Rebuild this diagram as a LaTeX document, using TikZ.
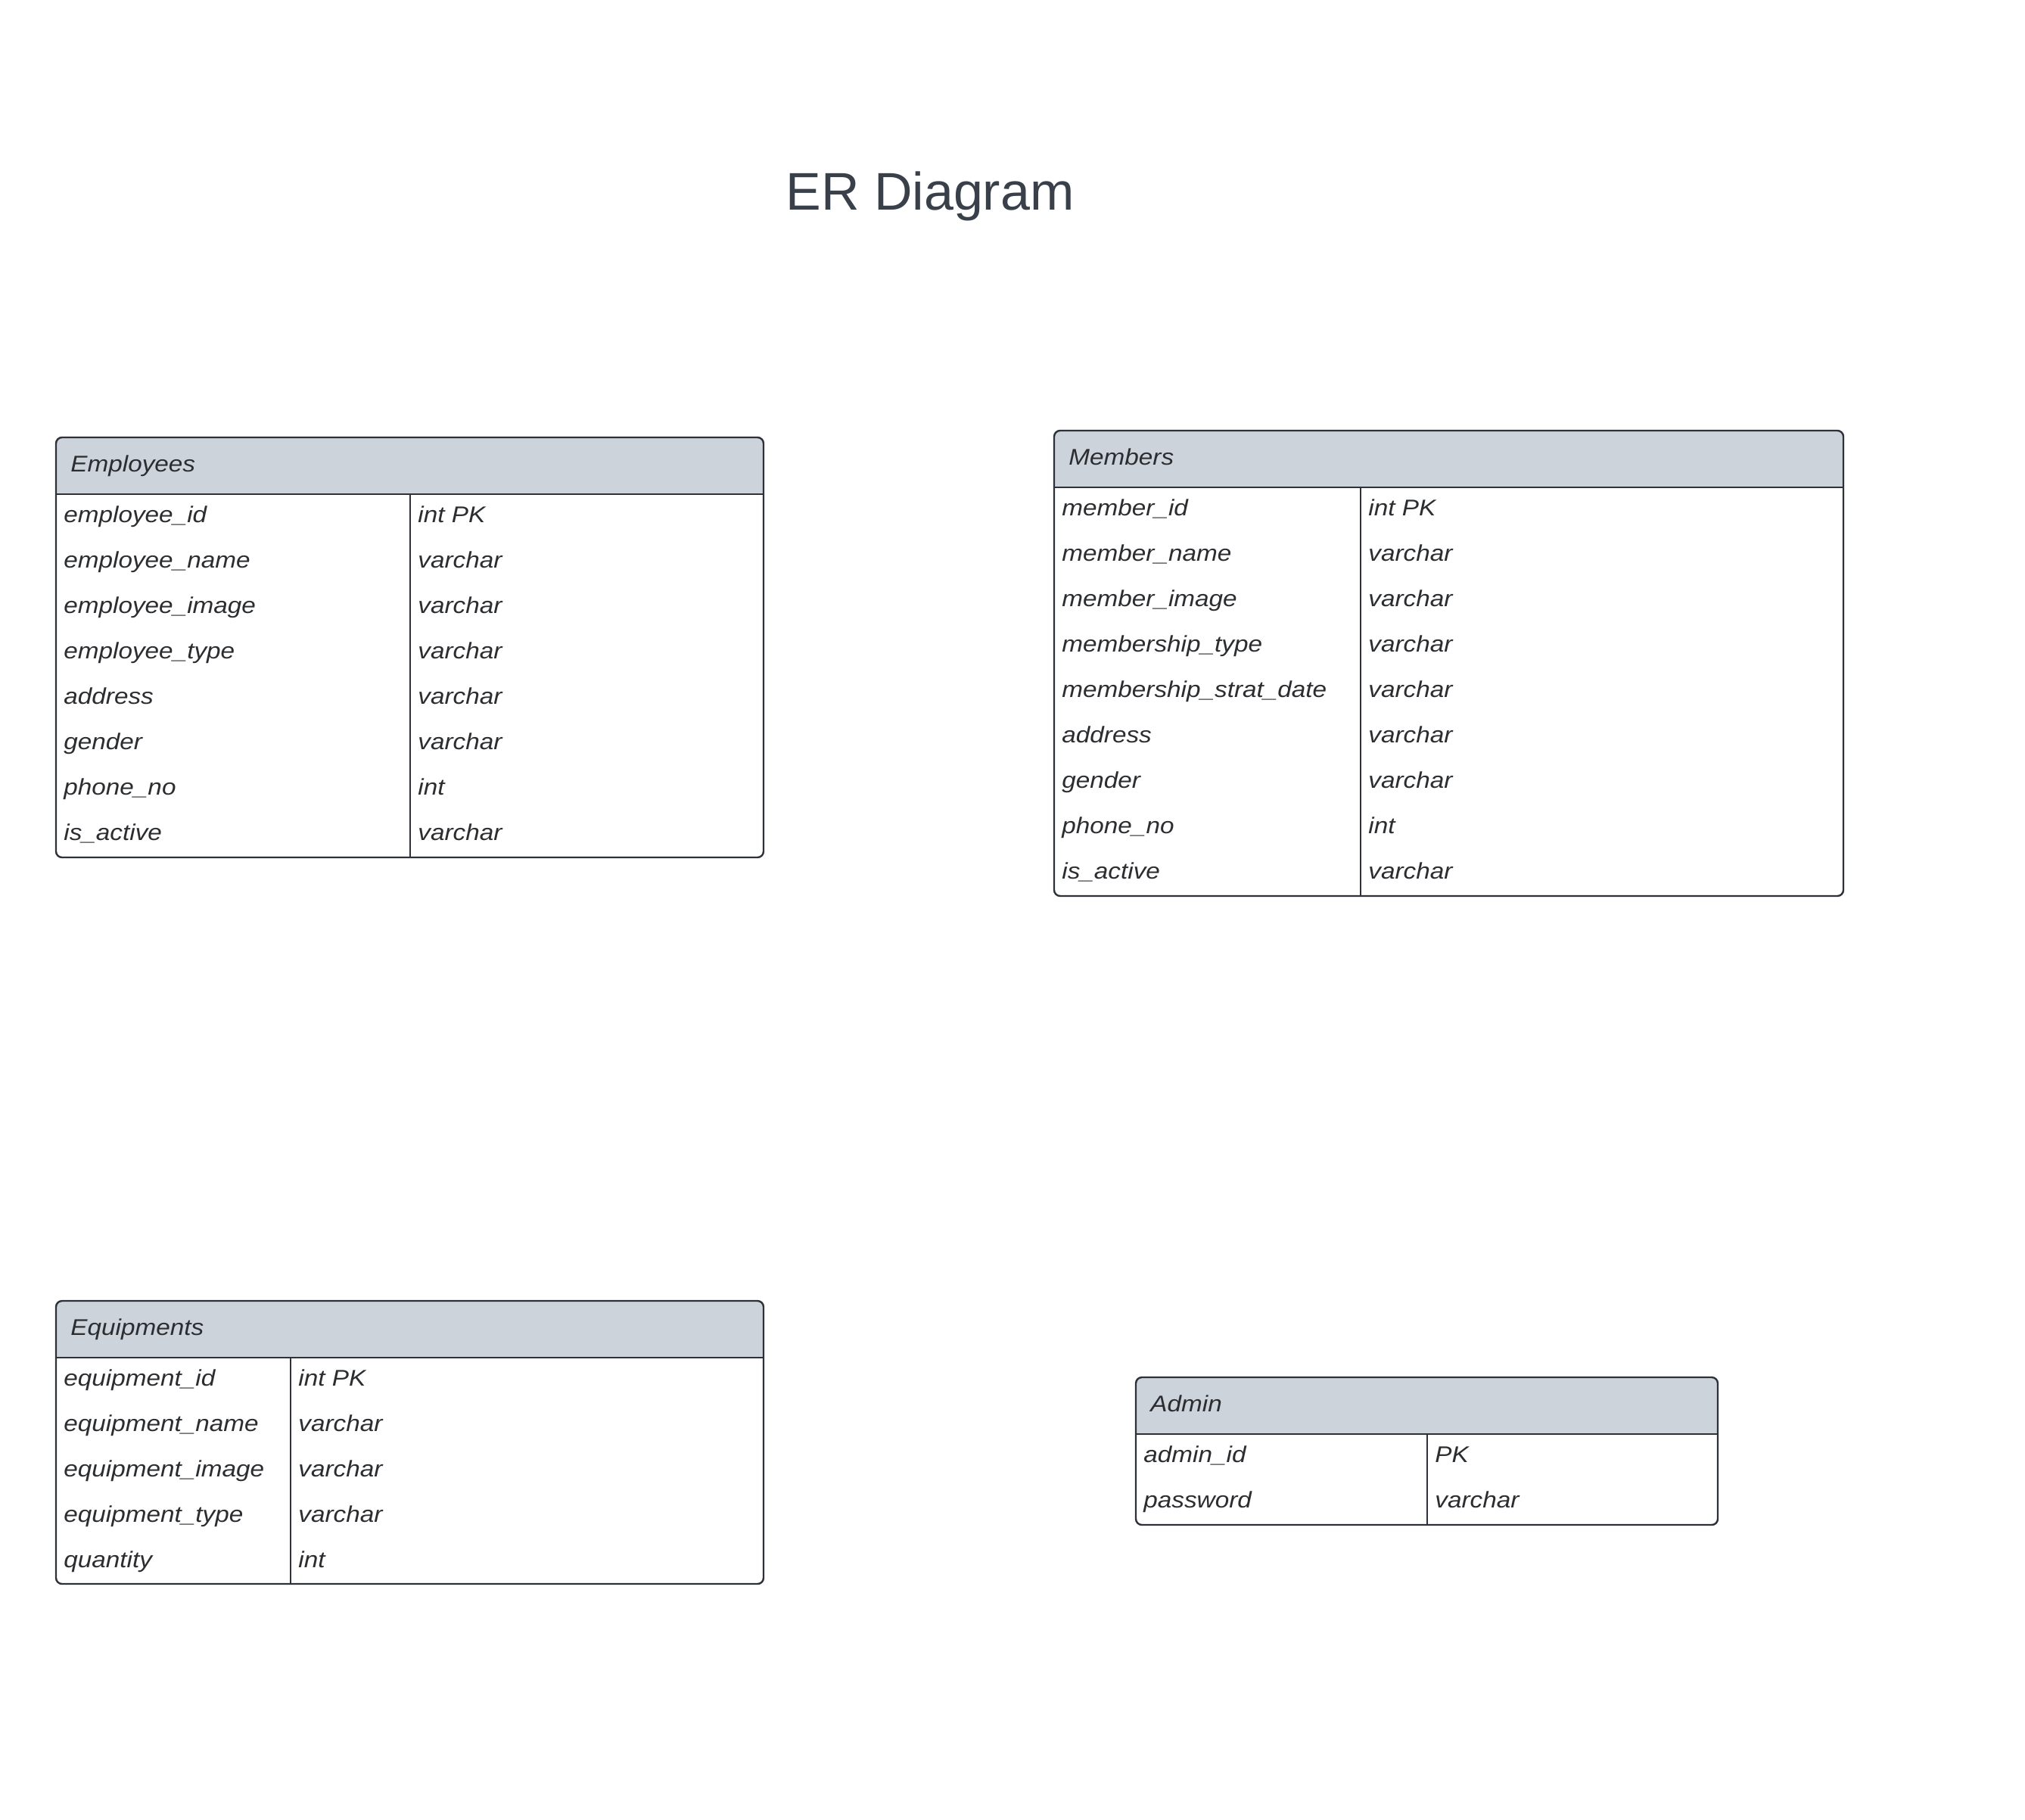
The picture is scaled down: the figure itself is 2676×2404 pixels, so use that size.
\documentclass[tikz,border=0pt]{standalone}
\usepackage{fontspec}
\setmainfont{Liberation Sans}
\newfontfamily\cellfont[FakeStretch=1.11]{Liberation Sans}
\definecolor{hdrfill}{HTML}{CDD3DB}
\definecolor{framecol}{HTML}{2E3238}
\definecolor{textcol}{HTML}{2B2D30}
\definecolor{titlecol}{HTML}{3A404A}
\tikzset{
  frame/.style={draw=framecol, line width=1.2pt, rounded corners=4pt, inner sep=0pt, outer sep=0pt, rectangle},
  rule/.style={draw=framecol, line width=1pt},
  cell/.style={inner sep=0pt, anchor=base west, text=textcol, font=\cellfont\itshape\fontsize{15}{18}\selectfont},
  hdrtext/.style={inner sep=0pt, anchor=base west, text=textcol, font=\cellfont\itshape\fontsize{15}{18}\selectfont},
}
\begin{document}
\begin{tikzpicture}[x=0.5pt,y=-0.5pt]
\fill[white] (0,0) rectangle (2676,2404);
\useasboundingbox (0,0) rectangle (2676,2404);

\node[inner sep=0pt, anchor=base west, text=titlecol, font=\fontsize{35}{42}\selectfont] (title) at (1038,277) {ER Diagram};

% ---------- Employees ----------
\begin{scope}
\clip[rounded corners=4pt] (74,578) rectangle (1009,1133);
\fill[hdrfill] (74,578) rectangle (1009,653);
\end{scope}
\node[frame, minimum width=467.5pt, minimum height=277.5pt, anchor=north west] (emp) at (74,578) {};
\node[hdrtext] (empT) at (93,623) {Employees};
\coordinate (empHL) at (74,653);
\coordinate (empHR) at (1009,653);
\draw[rule] (empHL) -- (empHR);
\coordinate (empD) at (542,653);
\draw[rule] (empD) -- (empD |- emp.south);
\foreach \f/\t [count=\i] in {employee\_id/int PK, employee\_name/varchar, employee\_image/varchar, employee\_type/varchar, address/varchar, gender/varchar, phone\_no/int, is\_active/varchar}{
  \node[cell] (emp-f\i) at (84,{653+60*(\i-1)+37}) {\f};
  \node[cell] (emp-t\i) at (552,{653+60*(\i-1)+37}) {\t};
}

% ---------- Members ----------
\begin{scope}
\clip[rounded corners=4pt] (1393,569) rectangle (2436,1184);
\fill[hdrfill] (1393,569) rectangle (2436,644);
\end{scope}
\node[frame, minimum width=521.5pt, minimum height=307.5pt, anchor=north west] (mem) at (1393,569) {};
\node[hdrtext] (memT) at (1412,614) {Members};
\coordinate (memHL) at (1393,644);
\coordinate (memHR) at (2436,644);
\draw[rule] (memHL) -- (memHR);
\coordinate (memD) at (1798,644);
\draw[rule] (memD) -- (memD |- mem.south);
\foreach \f/\t [count=\i] in {member\_id/int PK, member\_name/varchar, member\_image/varchar, membership\_type/varchar, membership\_strat\_date/varchar, address/varchar, gender/varchar, phone\_no/int, is\_active/varchar}{
  \node[cell] (mem-f\i) at (1403,{644+60*(\i-1)+37}) {\f};
  \node[cell] (mem-t\i) at (1808,{644+60*(\i-1)+37}) {\t};
}

% ---------- Equipments ----------
\begin{scope}
\clip[rounded corners=4pt] (74,1719) rectangle (1009,2093);
\fill[hdrfill] (74,1719) rectangle (1009,1794);
\end{scope}
\node[frame, minimum width=467.5pt, minimum height=187pt, anchor=north west] (equ) at (74,1719) {};
\node[hdrtext] (equT) at (93,1764) {Equipments};
\coordinate (equHL) at (74,1794);
\coordinate (equHR) at (1009,1794);
\draw[rule] (equHL) -- (equHR);
\coordinate (equD) at (384,1794);
\draw[rule] (equD) -- (equD |- equ.south);
\foreach \f/\t [count=\i] in {equipment\_id/int PK, equipment\_name/varchar, equipment\_image/varchar, equipment\_type/varchar, quantity/int}{
  \node[cell] (equ-f\i) at (84,{1794+60*(\i-1)+37}) {\f};
  \node[cell] (equ-t\i) at (394,{1794+60*(\i-1)+37}) {\t};
}

% ---------- Admin ----------
\begin{scope}
\clip[rounded corners=4pt] (1501,1820) rectangle (2270,2015);
\fill[hdrfill] (1501,1820) rectangle (2270,1895);
\end{scope}
\node[frame, minimum width=384.5pt, minimum height=97.5pt, anchor=north west] (adm) at (1501,1820) {};
\node[hdrtext] (admT) at (1520,1865) {Admin};
\coordinate (admHL) at (1501,1895);
\coordinate (admHR) at (2270,1895);
\draw[rule] (admHL) -- (admHR);
\coordinate (admD) at (1886,1895);
\draw[rule] (admD) -- (admD |- adm.south);
\foreach \f/\t [count=\i] in {admin\_id/PK, password/varchar}{
  \node[cell] (adm-f\i) at (1511,{1895+60*(\i-1)+37}) {\f};
  \node[cell] (adm-t\i) at (1896,{1895+60*(\i-1)+37}) {\t};
}
\end{tikzpicture}
\end{document}
